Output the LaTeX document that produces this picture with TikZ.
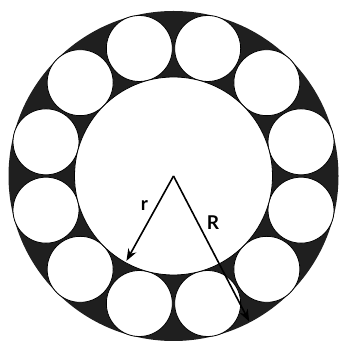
\documentclass[tikz,border=0pt]{standalone}
\usepackage{fontspec}
\setmainfont{Lato}
\usetikzlibrary{arrows.meta,calc}
\begin{document}
\begin{tikzpicture}[x=1pt,y=1pt,
  ball/.style={fill=white,draw=black,line width=0.8pt},
  radius arrow/.style={draw=black,line width=1.6pt,-{Stealth[length=12pt,width=9pt]}},
  lbl/.style={font=\fontsize{19}{22}\selectfont\bfseries,inner sep=0pt}]
\useasboundingbox (0,0) rectangle (342,342);
\coordinate (c) at (173.5,166);
\fill[black!88] (c) circle[radius=165];
\foreach \a in {15,45,...,345}{
  \draw[ball] ($(c)+(\a:132)$) circle[radius=33];
}
\draw[ball] (c) circle[radius=99];
\coordinate (rend) at ($(c)+(241:97)$);
\coordinate (Rend) at ($(c)+(297.5:164)$);
\draw[radius arrow] (c) -- (rend);
\draw[radius arrow] (c) -- (Rend);
\node[lbl] (rl) at (144.5,136) {r};
\node[lbl] (Rl) at (213,119.5) {R};
\end{tikzpicture}
\end{document}
